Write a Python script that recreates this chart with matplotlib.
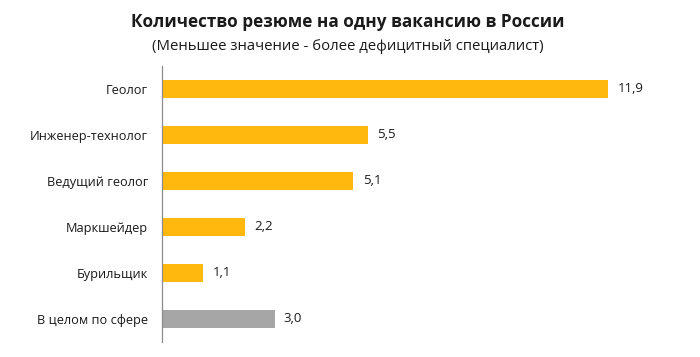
import matplotlib.pyplot as plt

plt.rcParams['font.family'] = ['Open Sans', 'DejaVu Sans']

categories = ['Геолог', 'Инженер-технолог', 'Ведущий геолог', 'Маркшейдер',
              'Бурильщик', 'В целом по сфере']
values = [11.9, 5.5, 5.1, 2.2, 1.1, 3.0]
labels = ['11,9', '5,5', '5,1', '2,2', '1,1', '3,0']
colors = ['#FFB80D'] * 5 + ['#A6A6A6']

fig = plt.figure(figsize=(7, 3.57), dpi=100)
ax = fig.add_axes([162 / 700, 15 / 357, 528 / 700, 276 / 357])

pos = list(range(len(categories)))
ax.barh(pos, values, height=0.38, color=colors)
ax.set_ylim(len(categories) - 0.5, -0.5)
ax.set_xlim(0, 528 / 37.5)

for p, v, lab in zip(pos, values, labels):
    ax.text(v + 0.25, p, lab, va='center', ha='left', fontsize=9.5, color='#1a1a1a')

ax.set_yticks(pos)
ax.set_yticklabels(categories, fontsize=9.2, color='#1a1a1a')
ax.tick_params(axis='y', length=0, pad=10)
ax.set_xticks([])
for s in ['top', 'right', 'bottom']:
    ax.spines[s].set_visible(False)
ax.spines['left'].set_color('#8c8c8c')
ax.spines['left'].set_linewidth(0.9)

fig.text(0.497, 1 - 22 / 357, 'Количество резюме на одну вакансию в России',
         ha='center', va='center', fontsize=12.3, fontweight='bold', color='#1a1a1a')
fig.text(0.497, 1 - 46 / 357, '(Меньшее значение - более дефицитный специалист)',
         ha='center', va='center', fontsize=10.7, color='#1a1a1a')

fig.savefig('out.png', dpi=100)
